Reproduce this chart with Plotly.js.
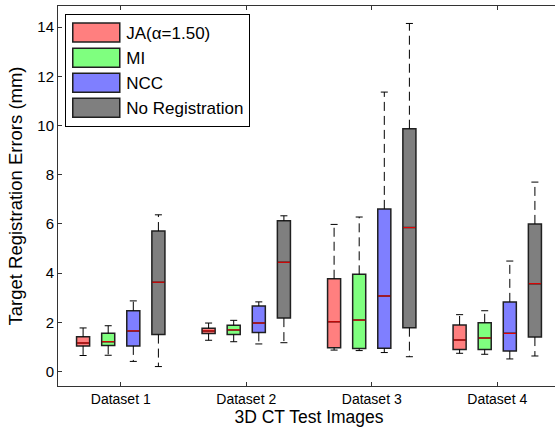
<!DOCTYPE html>
<html>
<head>
<meta charset="utf-8">
<script src="https://cdn.plot.ly/plotly-3.0.1.min.js"></script>
<style>
  html, body { margin: 0; padding: 0; overflow: hidden; background: #fff; }
  #chart { width: 562px; height: 428px; }
</style>
</head>
<body>
<div id="chart"></div>
<script>
// ---- Data ----
const categories = ['Dataset 1', 'Dataset 2', 'Dataset 3', 'Dataset 4'];
const methods = ['JA(\u03B1=1.50)', 'MI', 'NCC', 'No Registration'];

const jaQ1     = [1.04, 1.54, 0.97, 0.89];
const jaMedian = [1.16, 1.65, 2.02, 1.28];
const jaQ3     = [1.41, 1.76, 3.77, 1.89];
const jaLow    = [0.65, 1.27, 0.87, 0.74];
const jaHigh   = [1.77, 1.97, 5.98, 2.31];

const miQ1     = [1.06, 1.50, 0.93, 0.89];
const miMedian = [1.21, 1.69, 2.09, 1.36];
const miQ3     = [1.55, 1.88, 3.95, 1.98];
const miLow    = [0.66, 1.21, 0.85, 0.70];
const miHigh   = [1.86, 2.08, 6.28, 2.47];

const nccQ1     = [1.04, 1.59, 0.94, 0.83];
const nccMedian = [1.65, 1.97, 3.07, 1.55];
const nccQ3     = [2.47, 2.66, 6.61, 2.83];
const nccLow    = [0.41, 1.12, 0.77, 0.51];
const nccHigh   = [2.87, 2.83, 11.36, 4.49];

const nrQ1     = [1.50, 2.17, 1.78, 1.40];
const nrMedian = [3.63, 4.44, 5.85, 3.57];
const nrQ3     = [5.71, 6.13, 9.87, 6.00];
const nrLow    = [0.20, 1.17, 0.60, 0.63];
const nrHigh   = [6.37, 6.33, 14.15, 7.70];

const yTicks = [0, 2, 4, 6, 8, 10, 12, 14];

// ---- Styling ----
const fillColors = ['#FF7F7F', '#7FFF7F', '#7F7FFF', '#7F7F7F'];
const slot = 0.2;        // spacing between boxes within a group
const boxWidth = 0.104;  // box width in axis units
const capHalf = 0.028;   // half width of whisker caps

const series = [
  {q1: jaQ1, med: jaMedian, q3: jaQ3, lo: jaLow, hi: jaHigh},
  {q1: miQ1, med: miMedian, q3: miQ3, lo: miLow, hi: miHigh},
  {q1: nccQ1, med: nccMedian, q3: nccQ3, lo: nccLow, hi: nccHigh},
  {q1: nrQ1, med: nrMedian, q3: nrQ3, lo: nrLow, hi: nrHigh}
];

const traces = [];
const whiskX = [], whiskY = [], capX = [], capY = [], medX = [], medY = [];

series.forEach((s, k) => {
  const xs = categories.map((c, i) => (i + 1) + (k - 1.5) * slot);
  traces.push({
    type: 'box',
    name: methods[k],
    x: xs,
    q1: s.q1, median: s.med, q3: s.q3,
    lowerfence: s.q1, upperfence: s.q3,
    width: boxWidth,
    whiskerwidth: 0,
    fillcolor: fillColors[k],
    line: {color: '#202020', width: 1.5},
    hoverinfo: 'skip'
  });
  xs.forEach((x, i) => {
    whiskX.push(x, x, null, x, x, null);
    whiskY.push(s.q3[i], s.hi[i], null, s.q1[i], s.lo[i], null);
    capX.push(x - capHalf, x + capHalf, null, x - capHalf, x + capHalf, null);
    capY.push(s.hi[i], s.hi[i], null, s.lo[i], s.lo[i], null);
    medX.push(x - boxWidth / 2 + 0.004, x + boxWidth / 2 - 0.004, null);
    medY.push(s.med[i], s.med[i], null);
  });
});

traces.push({
  type: 'scatter', mode: 'lines', x: whiskX, y: whiskY, showlegend: false,
  line: {color: '#000', width: 1, dash: '9px,5px'}, hoverinfo: 'skip', connectgaps: false
});
traces.push({
  type: 'scatter', mode: 'lines', x: capX, y: capY, showlegend: false,
  line: {color: '#000', width: 1}, hoverinfo: 'skip', connectgaps: false
});
traces.push({
  type: 'scatter', mode: 'lines', x: medX, y: medY, showlegend: false,
  line: {color: '#FF0000', width: 1}, hoverinfo: 'skip', connectgaps: false
});

const font = 'Arial, "Liberation Sans", sans-serif';

const layout = {
  width: 562,
  height: 428,
  margin: {l: 58, r: 2, t: 6, b: 42},
  paper_bgcolor: '#fff',
  plot_bgcolor: '#fff',
  font: {family: font, color: '#000', size: 14},
  boxmode: 'overlay',
  showlegend: true,
  legend: {
    x: 0.0145, y: 0.979, xanchor: 'left', yanchor: 'top',
    bgcolor: '#fff', bordercolor: '#000', borderwidth: 1,
    font: {family: font, size: 17, color: '#000'},
    itemwidth: 50,
    tracegroupgap: 0
  },
  xaxis: {
    range: [0.5, 4.5],
    tickmode: 'array',
    tickvals: [1, 2, 3, 4],
    ticktext: categories,
    ticks: 'inside', ticklen: 4, tickcolor: '#333',
    showline: true, linecolor: '#333', linewidth: 1, mirror: 'ticks',
    showgrid: false, zeroline: false,
    tickfont: {size: 14},
    title: {text: '3D CT Test Images', font: {size: 17.5}, standoff: 0}
  },
  yaxis: {
    range: [-0.59, 14.86],
    tickmode: 'array',
    tickvals: yTicks,
    ticktext: yTicks.map(String),
    ticks: 'inside', ticklen: 4, tickcolor: '#333',
    showline: true, linecolor: '#333', linewidth: 1, mirror: 'ticks',
    showgrid: false, zeroline: false,
    tickfont: {size: 15},
    title: {text: 'Target Registration Errors (mm)', font: {size: 18.5}, standoff: 9}
  }
};

Plotly.newPlot('chart', traces, layout, {staticPlot: true, displayModeBar: false}).then(gd => {
  // widen legend swatches to the reference's wide rectangles
  gd.querySelectorAll('.legend .legendpoints path').forEach(p => {
    p.setAttribute('d', 'M-23.5,9.5H23.5V-9.5H-23.5Z');
  });
});
</script>
</body>
</html>
